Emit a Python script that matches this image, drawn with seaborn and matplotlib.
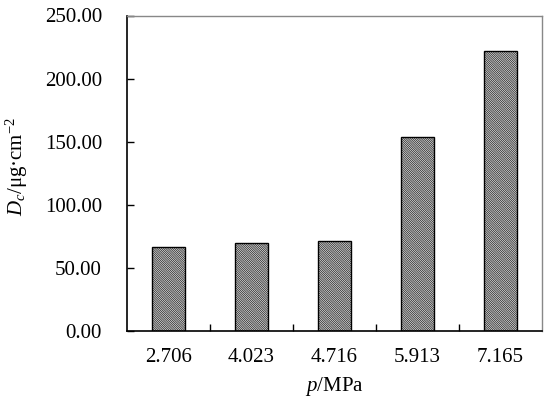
import matplotlib
matplotlib.use("Agg")
import matplotlib.pyplot as plt
import seaborn as sns
import pandas as pd

pressures = ["2.706", "4.023", "4.716", "5.913", "7.165"]
dc_values = [66.8, 69.8, 71.6, 154.0, 222.0]

sns.set_theme(style="white")
plt.rcParams['font.family'] = ['Liberation Serif', 'DejaVu Serif']
plt.rcParams['mathtext.fontset'] = 'custom'
plt.rcParams['mathtext.rm'] = 'Liberation Serif'
plt.rcParams['mathtext.it'] = 'Liberation Serif:italic'
plt.rcParams['hatch.linewidth'] = 0.45
plt.rcParams['hatch.color'] = '#555555'

df = pd.DataFrame({"p": pressures, "Dc": dc_values})

fig = plt.figure(figsize=(5.5, 4.05), dpi=100)
ax = fig.add_axes([127/550, 1-331/405, 415/550, (331-15.5)/405])
sns.barplot(data=df, x="p", y="Dc", ax=ax, color="white", width=0.39,
            edgecolor="black", linewidth=1.0, hatch="\\" * 18, saturation=1)

fs = 15
ax.set_ylim(0, 250)
ax.set_xlim(-0.5, 4.5)
ax.set_yticks([0, 50, 100, 150, 200, 250])
ax.set_yticklabels([f"{v:.2f}" for v in [0, 50, 100, 150, 200, 250]])
ax.set_xticks(range(5))
ax.set_xticklabels(pressures)
ax.set_xticks([0.5, 1.5, 2.5, 3.5], minor=True)
ax.tick_params(axis='x', which='major', length=0, labelsize=fs, pad=12, colors='black')
ax.tick_params(axis='x', which='minor', direction='in', length=5, width=1, color='black', bottom=True)
ax.tick_params(axis='y', direction='in', length=5, width=1, labelsize=fs, left=True, colors='black', pad=18)
for lbl in ax.get_yticklabels() + ax.get_xticklabels():
    lbl.set_color('black')

for side in ['left', 'bottom']:
    ax.spines[side].set_color('black')
    ax.spines[side].set_linewidth(1.2)
for side in ['top', 'right']:
    ax.spines[side].set_color('#888888')
    ax.spines[side].set_linewidth(1.0)

ax.set_xlabel(r"$p$/MPa", fontsize=fs, color='black', labelpad=6)
ax.set_ylabel(r"$D_c$/μg·cm$^{-2}$", fontsize=fs, color='black', va='center', ha='center')
ax.yaxis.set_label_coords(-0.265, 0.52)

fig.savefig("out.png", dpi=100)
